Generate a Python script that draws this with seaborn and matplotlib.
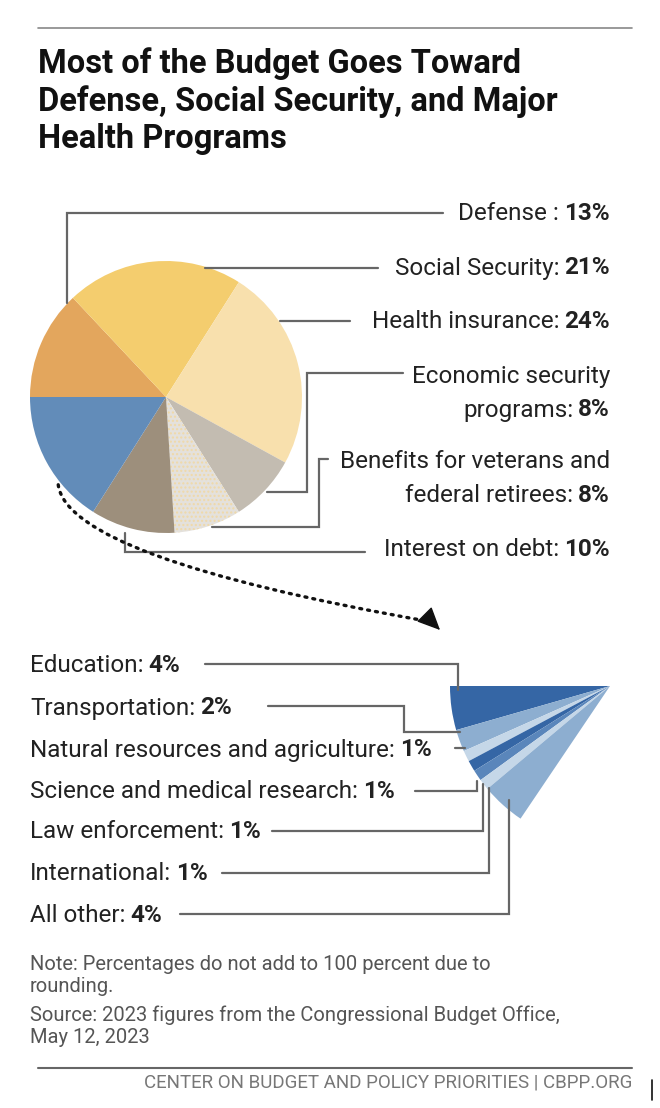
import numpy as np
import pandas as pd
import matplotlib.pyplot as plt
import seaborn as sns

# --- 1. VERİLER ---
main_labels = ["Defense :", "Social Security:", "Health insurance:", "Economic security\nprograms:",
               "Benefits for veterans and\nfederal retirees:", "Interest on debt:", "Other"]
main_values = [13, 21, 24, 8, 8, 10, 16]
main_colors = ["#e3a65d", "#f4cd6e", "#f8e0ad", "#c3bcb1", "#e4e1dc", "#9d8f7c", "#628cb9"]

small_labels = ["Education:", "Transportation:", "Natural resources and agriculture:",
                "Science and medical research:", "Law enforcement:", "International:", "All other:"]
small_values = [4, 2, 1, 1, 1, 1, 4]
small_colors = ["#3566a5", "#8daed0", "#c5d7e8", "#3566a5", "#5a86bb", "#c5d7e8", "#8daed0"]

H = 1108  # piksel yüksekliği


def label(ax, x, y, text, value, ha="right", size=17.5):
    """Normal etiket + kalın yüzde; y son satırın pikseli (yukarıdan)."""
    r = ax.figure.canvas.get_renderer()
    lines = text.split("\n")
    if ha == "right":
        t = ax.text(x, H - y, value, ha="right", va="center", fontsize=size, fontweight="bold", color="#222")
        w = t.get_window_extent(r).width
        ax.text(x - w - 5, H - y, lines[-1], ha="right", va="center", fontsize=size, color="#222")
        if len(lines) > 1:
            ax.text(x, H - y + 34, lines[0], ha="right", va="center", fontsize=size, color="#222")
    else:
        t = ax.text(x, H - y, text, ha="left", va="center", fontsize=size, color="#222")
        w = t.get_window_extent(r).width
        ax.text(x + w + 5, H - y, value, ha="left", va="center", fontsize=size, fontweight="bold", color="#222")


def line(ax, xs, ys):
    ax.plot(xs, [H - y for y in ys], color="#666", lw=1.6, solid_joinstyle="miter")


def main():
    sns.set_theme(style="white")
    plt.rcParams["font.family"] = ["Roboto", "DejaVu Sans"]

    fig = plt.figure(figsize=(6.6, 11.08), dpi=100)
    ax = fig.add_axes([0, 0, 1, 1])

    # Ana pasta grafiği
    wedges, _ = ax.pie(main_values, colors=main_colors, center=(166, H - 397), radius=136,
                       startangle=180, counterclock=False, frame=True,
                       wedgeprops=dict(linewidth=0))
    wedges[4].set_hatch("....")
    wedges[4].set_edgecolor("#f0d9a8")

    # Küçük yelpaze
    rest = sum(small_values) * 360 / 56 - sum(small_values)
    fan, _ = ax.pie(small_values + [rest], colors=small_colors + ["none"], center=(610, H - 686),
                    radius=160, startangle=180, counterclock=True, frame=True,
                    wedgeprops=dict(linewidth=0))

    ax.set_xlim(0, 660)
    ax.set_ylim(0, H)
    ax.set_aspect("equal")
    ax.axis("off")

    # Başlık
    ax.plot([38, 632], [H - 28, H - 28], color="#888", lw=1.2)
    ax.text(38, H - 101, "Most of the Budget Goes Toward\nDefense, Social Security, and Major\nHealth Programs",
            ha="left", va="center", fontsize=23.5, fontweight="bold", color="#111", linespacing=1.2)

    # Üst etiketler
    label(ax, 610, 213, main_labels[0], "13%")
    label(ax, 610, 268, main_labels[1], "21%")
    label(ax, 610, 321, main_labels[2], "24%")
    label(ax, 610, 410, main_labels[3], "8%")
    label(ax, 610, 495, main_labels[4], "8%")
    label(ax, 610, 550, main_labels[5], "10%")

    line(ax, [443, 67, 67], [213, 213, 303])
    line(ax, [378, 205], [268, 268])
    line(ax, [350, 280], [321, 321])
    line(ax, [403, 307, 307, 267], [373, 373, 492, 492])
    line(ax, [328, 319, 319, 212], [459, 459, 527, 527])
    line(ax, [365, 125, 125], [552, 552, 533])

    # Noktalı ok
    ax.annotate("", xy=(432, H - 622), xytext=(58, H - 482),
                arrowprops=dict(arrowstyle="-", color="#111", lw=2.4,
                                linestyle=(0, (0.6, 1.8)), connectionstyle="angle3,angleA=-88,angleB=-10"))
    ax.annotate("", xy=(442, H - 632), xytext=(430, H - 620),
                arrowprops=dict(arrowstyle="-|>,head_length=1.2,head_width=0.55", color="#111", lw=1))

    # Alt etiketler
    ys = [666, 708, 750, 791, 832, 874, 915]
    for lab, val, y in zip(small_labels, small_values, ys):
        label(ax, 30, y, lab, f"{val}%", ha="left")

    line(ax, [205, 458, 458], [664, 664, 690])
    line(ax, [268, 404, 404, 460], [706, 706, 732, 732])
    line(ax, [455, 465], [748, 748])
    line(ax, [415, 477, 477], [791, 791, 781])
    line(ax, [272, 483, 483], [831, 831, 784])
    line(ax, [222, 489, 489], [873, 873, 788])
    line(ax, [180, 509, 509], [914, 914, 800])

    # Notlar
    ax.text(30, H - 976, "Note: Percentages do not add to 100 percent due to\nrounding.",
            ha="left", va="center", fontsize=14.5, color="#555", linespacing=1.2)
    ax.text(30, H - 1026, "Source: 2023 figures from the Congressional Budget Office,\nMay 12, 2023",
            ha="left", va="center", fontsize=14.5, color="#555", linespacing=1.2)
    ax.plot([38, 632], [H - 1068, H - 1068], color="#666", lw=1.5)
    ax.text(632, H - 1083, "CENTER ON BUDGET AND POLICY PRIORITIES | CBPP.ORG",
            ha="right", va="center", fontsize=13.5, color="#777")
    ax.plot([652, 652], [H - 1080, H - 1100], color="#111", lw=1.2)

    fig.savefig("out.png", dpi=100, facecolor="white")


if __name__ == "__main__":
    main()
